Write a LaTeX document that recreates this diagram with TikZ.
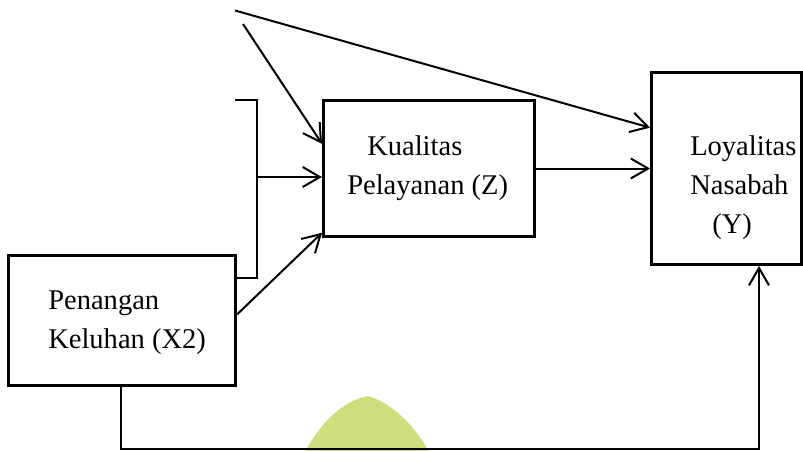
\documentclass[tikz,border=0pt]{standalone}
\usepackage{xcolor}
\usepackage{fontspec}
\setmainfont{Liberation Serif}
\usetikzlibrary{arrows.meta}

\definecolor{daun}{RGB}{206,222,124}

\tikzset{
	kotak/.style = {draw, line width=2.5pt, minimum width=#1, inner sep=0pt},
	teks/.style = {align=left, inner sep=0pt, anchor=north west,
		font=\fontsize{21.4pt}{29.25pt}\selectfont},
	garis/.style = {line width=1.5pt},
	panah/.style = {garis, -{Straight Barb[length=13pt, width=15pt, line width=1.5pt]}}
}

\begin{document}
\begin{tikzpicture}[x=0.75pt, y=-0.75pt]
				% We will draw the research model here
				\useasboundingbox (0,0) rectangle (803,450);
				
				\fill[daun] (305,452) .. controls (322,420) and (345,400) .. (368,396)
					.. controls (390,402) and (415,425) .. (429,452) -- cycle;
				
				\node[kotak=170pt, minimum height=97.2pt] (x2) at (122,320.5) {};
				\node[kotak=158pt, minimum height=101.7pt] (z) at (429,168.5) {};
				\node[kotak=112.7pt, minimum height=143.7pt] (y) at (726.9,168.5) {};
				
				\node[teks] (tx2) at (48,291) {Penangan\\Keluhan (X2)};
				\node[teks] (tz) at (347,135.5) {\hspace*{15pt}Kualitas\\Pelayanan (Z)};
				\node[teks] (ty) at (690,135.5) {Loyalitas\\Nasabah\\\hspace*{16.5pt}(Y)};
				
				\coordinate (t1) at (235,10.5);
				\coordinate (t2) at (243,24);
				\coordinate (b1) at (235,100);
				\coordinate (b2) at (257,278);
				\coordinate (b3) at (257,177);
				\coordinate (c1) at (121,449);
				\coordinate (c2) at (759,449);
				
				\draw[panah] (t1) -- (y.152.3);
				\draw[panah] (t2) -- (z.167.4);
				\draw[garis] (b1) -| (b2) -- (b2 -| x2.east);
				\draw[panah] (b3) -- (b3 -| z.west);
				\draw[panah] (x2.3.8) -- (z.211.1);
				\draw[panah] (z.east) -- (z.east -| y.west);
				\draw[panah] (x2.south -| c1) -- (c1) -- (c2) -- (c2 |- y.south);
				
			\end{tikzpicture}
\end{document}
